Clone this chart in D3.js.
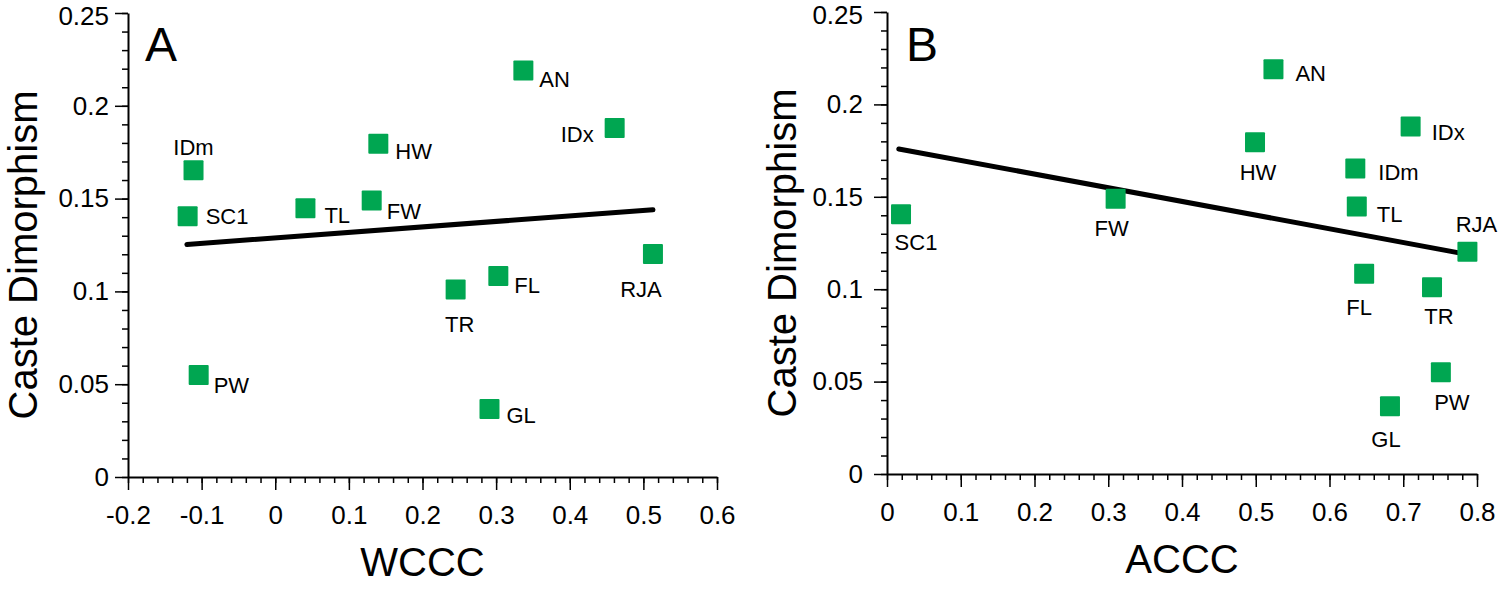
<html><head>
<meta charset="utf-8">
<title>Caste dimorphism vs WCCC / ACCC</title>
<script src="https://d3js.org/d3.v7.min.js"></script>
<style>
  body { margin: 0; background: #fff; }
  svg { font-family: "Liberation Sans", Arial, sans-serif; }
  .axis path, .axis line { stroke: #000; }
  .axis path { stroke-width: 2; }
  .axis line { stroke-width: 1.5; }
  .axis text { font-size: 26px; fill: #000; }
  .pt { fill: #00a651; }
  .pt-label { font-size: 22px; fill: #000; }
  .fit { stroke: #000; stroke-width: 5; stroke-linecap: round; fill: none; }
  .title { font-size: 40px; fill: #000; }
  .panel { font-size: 48px; fill: #000; }
</style>
</head>
<body>
<svg width="1500" height="591"></svg>

<script type="text/javascript">

// species, in the same order for every array below
var species = ["AN", "IDx", "HW", "IDm", "SC1", "TL", "FW", "RJA", "FL", "TR", "PW", "GL"];
var dimorphism = [0.219, 0.188, 0.1795, 0.1653, 0.1405, 0.1448, 0.149, 0.1202, 0.1083, 0.101, 0.055, 0.0367];
var wccc = [0.337, 0.461, 0.140, -0.111, -0.119, 0.041, 0.131, 0.513, 0.303, 0.245, -0.104, 0.291];
var accc = [0.524, 0.710, 0.499, 0.635, 0.019, 0.637, 0.310, 0.787, 0.647, 0.739, 0.751, 0.682];

// fitted lines, end points
var fitA = [[-0.120, 0.1253], [0.513, 0.1440]];
var fitB = [[0.016, 0.1759], [0.785, 0.1190]];

var yTicks = [0, 0.05, 0.1, 0.15, 0.2, 0.25];
var xTicksA = [-0.2, -0.1, 0, 0.1, 0.2, 0.3, 0.4, 0.5, 0.6];
var xTicksB = [0, 0.1, 0.2, 0.3, 0.4, 0.5, 0.6, 0.7, 0.8];

// where each point label sits: [dx, dy, anchor]
var labelPosA = [[16,16,"start"], [-21,14,"end"], [17,15,"start"], [0,-15,"middle"],
                 [18,8,"start"], [19,15,"start"], [15,19,"start"], [-12,43,"middle"],
                 [16,17,"start"], [4,42,"middle"], [15,18,"start"], [17,14,"start"]];
var labelPosB = [[22,12,"start"], [21,13,"start"], [3,38,"middle"], [23,11,"start"],
                 [15,36,"middle"], [20,16,"start"], [-4,37,"middle"], [9,-20,"middle"],
                 [-5,41,"middle"], [7,37,"middle"], [11,38,"middle"], [-4,41,"middle"]];

var svg = d3.select("svg");
svg.append("rect").attr("width", 1500).attr("height", 591).attr("fill", "#fff");

// plain hyphen for negatives, like the original
function fmt(d) { return String(+d.toFixed(2)); }

function drawPanel(opt) {
  var x = d3.scaleLinear().domain(opt.xDomain).range(opt.xRange);
  var y = d3.scaleLinear().domain([0, 0.25]).range(opt.yRange);
  var g = svg.append("g");

  var x0 = opt.xRange[0], y0 = opt.yRange[0];

  // minor ticks first, then the major ones on top
  var minorX = d3.range(opt.xDomain[0], opt.xDomain[1] + 1e-9, 0.02);
  var minorY = d3.range(0, 0.25 + 1e-9, 0.01);

  g.append("g").classed("axis", true)
    .attr("transform", "translate(0," + y0 + ")")
    .call(d3.axisBottom(x).tickValues(minorX).tickSize(6).tickFormat(""))
    .select(".domain").remove();
  g.append("g").classed("axis", true)
    .attr("transform", "translate(" + x0 + ",0)")
    .call(d3.axisLeft(y).tickValues(minorY).tickSize(6).tickFormat(""))
    .select(".domain").remove();

  g.append("g").classed("axis", true)
    .attr("transform", "translate(0," + y0 + ")")
    .call(d3.axisBottom(x).tickValues(opt.xTicks).tickSize(13).tickSizeOuter(0)
      .tickPadding(16).tickFormat(fmt));
  var yAxisG = g.append("g").classed("axis", true)
    .attr("transform", "translate(" + x0 + ",0)")
    .call(d3.axisLeft(y).tickValues(yTicks).tickSize(13).tickSizeOuter(0)
      .tickPadding(opt.yPad).tickFormat(fmt));
  // top label sits right at the page edge, nudge it down a touch
  yAxisG.selectAll(".tick text").filter(function(d) { return d === 0.25; })
    .attr("dy", "0.46em");

  // fitted line
  g.append("path").classed("fit", true)
    .attr("d", d3.line().x(function(d) { return x(d[0]); }).y(function(d) { return y(d[1]); })(opt.fit));

  // points
  var pts = species.map(function(s, i) { return { name: s, x: opt.xs[i], y: dimorphism[i], lp: opt.labels[i] }; });

  g.selectAll("rect.pt").data(pts).enter().append("rect")
    .classed("pt", true)
    .attr("x", function(d) { return x(d.x) - 10; })
    .attr("y", function(d) { return y(d.y) - 10; })
    .attr("width", 20).attr("height", 20)
    .attr("rx", 1);

  g.selectAll("text.pt-label").data(pts).enter().append("text")
    .classed("pt-label", true)
    .attr("x", function(d) { return x(d.x) + d.lp[0]; })
    .attr("y", function(d) { return y(d.y) + d.lp[1]; })
    .attr("text-anchor", function(d) { return d.lp[2]; })
    .text(function(d) { return d.name; });

  // titles
  g.append("text").classed("title", true)
    .attr("x", (opt.xRange[0] + opt.xRange[1]) / 2).attr("y", y0 + 99)
    .attr("text-anchor", "middle")
    .text(opt.xTitle);

  g.append("text").classed("title", true)
    .attr("transform", "translate(" + (x0 - 91) + "," + (y(0.125) + 10) + ") rotate(-90)")
    .attr("text-anchor", "middle")
    .text("Caste Dimorphism");

  g.append("text").classed("panel", true)
    .attr("x", x0 + opt.panelDx).attr("y", 61)
    .text(opt.panel);
}

drawPanel({ xDomain: [-0.2, 0.6], xRange: [128, 717], yRange: [477, 13], yPad: 6,
            xTicks: xTicksA, xs: wccc, fit: fitA, labels: labelPosA,
            xTitle: "WCCC", panel: "A", panelDx: 17 });

drawPanel({ xDomain: [0, 0.8], xRange: [887, 1477], yRange: [474, 12], yPad: 11,
            xTicks: xTicksB, xs: accc, fit: fitB, labels: labelPosB,
            xTitle: "ACCC", panel: "B", panelDx: 19 });

</script>
</body>
</html>
